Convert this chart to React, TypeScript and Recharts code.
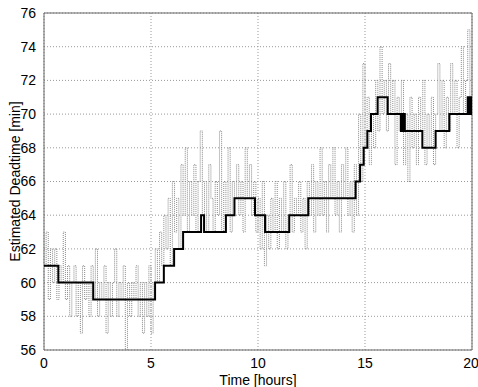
import React from "react";
import {
  CartesianGrid,
  Line,
  LineChart,
  ReferenceArea,
  XAxis,
  YAxis,
} from "recharts";

// measured deadtime, sampled every 0.1 h from t = 0
const noiseStep = 0.1;
const noiseValues = [
  61, 63, 59, 62, 60, 62, 59, 61, 60, 63, 59, 61, 58, 60, 61, 58, 60, 57, 61, 59,
  60, 58, 61, 59, 62, 58, 60, 59, 61, 57, 60, 58, 60, 62, 58, 60, 59, 61, 56, 60,
  58, 60, 59, 61, 58, 60, 57, 60, 58, 61, 57, 60, 62, 60, 63, 61, 64, 62, 65, 61,
  66, 63, 65, 62, 67, 64, 68, 63, 66, 64, 67, 63, 66, 69, 64, 66, 63, 67, 65, 63,
  66, 64, 69, 63, 66, 64, 68, 63, 66, 65, 67, 64, 66, 63, 68, 65, 67, 64, 66, 63,
  65, 62, 66, 61, 64, 62, 65, 63, 66, 62, 65, 63, 66, 62, 64, 67, 63, 65, 64, 66,
  63, 65, 62, 66, 64, 67, 63, 66, 64, 68, 64, 66, 63, 67, 65, 68, 64, 66, 63, 67,
  65, 68, 64, 66, 63, 67, 64, 70, 66, 73, 68, 71, 67, 70, 68, 72, 69, 74, 70, 72,
  69, 73, 70, 72, 67, 71, 69, 72, 67, 70, 66, 71, 68, 70, 67, 71, 69, 72, 67, 70,
  68, 71, 67, 70, 73, 69, 72, 68, 71, 69, 73, 70, 72, 68, 71, 74, 70, 72, 75, 70,
  73,
];

// estimated deadtime (step changes)
const stepTimes = [
  0, 0.67, 2.3, 5.19, 5.6, 6.08, 6.5, 7.34, 7.48, 8.5, 8.9, 9.86, 10.33, 11.46,
  12.35, 14.56, 14.77, 14.94, 15.11, 15.28, 15.59, 16.06, 16.68, 16.72, 16.76,
  16.8, 16.86, 17.68, 18.3, 18.94, 19.8, 19.85, 19.9, 19.94, 19.97, 20,
];
const stepValues = [
  61, 60, 59, 60, 61, 62, 63, 64, 63, 64, 65, 64, 63, 64, 65, 66, 67, 68, 69, 70,
  71, 70, 69, 70, 69, 70, 69, 68, 69, 70, 71, 70, 71, 70, 71, 71,
];

const xTicks = [0, 5, 10, 15, 20];
const yTicks = [56, 58, 60, 62, 64, 66, 68, 70, 72, 74, 76];

const noiseData = noiseValues.map((v, i) => ({ t: +(i * noiseStep).toFixed(2), v }));
const stepData = stepTimes.map((t, i) => ({ t, v: stepValues[i] }));

const font = "'Liberation Sans', Arial, sans-serif";
const tickStyle = { fill: "#000", fontSize: 14, fontFamily: font };

export default function App() {
  return (
    <div style={{ position: "absolute", left: 0, top: 0, background: "#fff" }}>
      <LineChart
        width={478}
        height={387}
        margin={{ top: 13, right: 6, bottom: 0, left: 0 }}
      >
        <CartesianGrid stroke="#999" strokeDasharray="1 2" />
        <XAxis
          type="number"
          dataKey="t"
          domain={[0, 20]}
          ticks={xTicks}
          allowDataOverflow
          tickLine={false}
          axisLine={false}
          tick={tickStyle}
          tickMargin={2}
          height={37}
          label={{
            value: "Time [hours]",
            position: "insideBottom",
            offset: 2,
            style: { fill: "#000", fontSize: 14, fontFamily: font },
          }}
        />
        <YAxis
          type="number"
          domain={[56, 76]}
          ticks={yTicks}
          allowDataOverflow
          tickLine={false}
          axisLine={false}
          tick={tickStyle}
          tickMargin={2}
          width={44}
          label={{
            value: "Estimated Deadtime [min]",
            angle: -90,
            position: "insideLeft",
            offset: 15,
            style: { fill: "#000", fontSize: 14, fontFamily: font, textAnchor: "middle" },
          }}
        />
        <Line
          data={noiseData}
          dataKey="v"
          type="stepAfter"
          stroke="#888"
          strokeWidth={1}
          strokeDasharray="1 1"
          dot={false}
          isAnimationActive={false}
        />
        <Line
          data={stepData}
          dataKey="v"
          type="stepAfter"
          stroke="#000"
          strokeWidth={2}
          dot={false}
          isAnimationActive={false}
        />
        <ReferenceArea
          x1={0}
          x2={20}
          y1={56}
          y2={76}
          fill="none"
          stroke="#666"
          strokeWidth={1}
          ifOverflow="visible"
        />
      </LineChart>
    </div>
  );
}
